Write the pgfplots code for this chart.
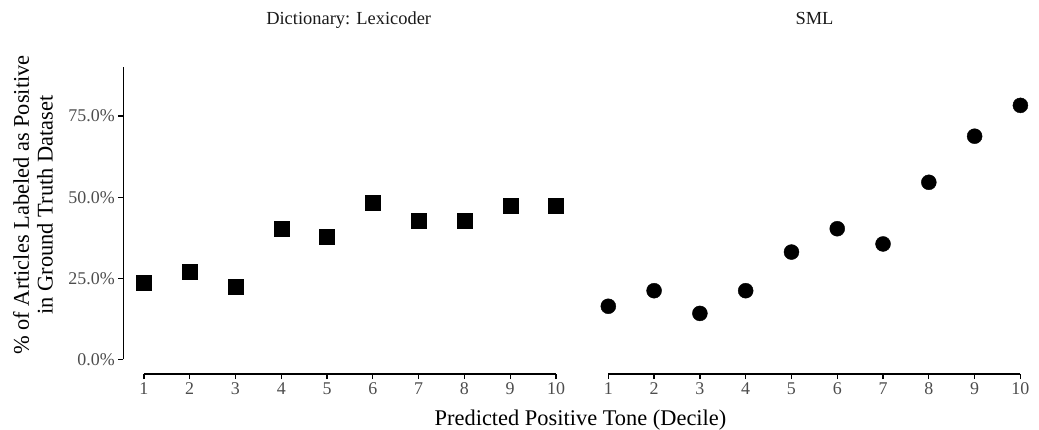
\documentclass[border=0pt]{standalone}
\usepackage{fontspec}
\setmainfont{Liberation Serif}
\usepackage{pgfplots}
\pgfplotsset{compat=1.18}
\definecolor{ticktxt}{HTML}{4D4D4D}
\definecolor{striptxt}{HTML}{1A1A1A}

\pgfplotsset{
  facet/.style={
    scale only axis,
    width=453.3bp, height=321.3bp,
    xmin=0.55, xmax=10.45,
    ymin=-4.5, ymax=94.5,
    axis line style={draw=none},
    tick pos=left,
    tick align=outside,
    major tick length=5bp,
    tick style={line width=1.3bp, black},
    ticklabel style={font=\fontsize{18}{18}\selectfont, text=ticktxt},
    xtick={1,2,3,4,5,6,7,8,9,10},
    xticklabels={1,2,3,4,5,6,7,8,9,10},
    clip=false,
  },
}

\begin{document}
\begin{tikzpicture}
  % left facet: dictionary
  \begin{axis}[facet,
      at={(123.3bp,55.9bp)}, anchor=south west,
      ytick={0,25,50,75},
      yticklabels={0.0\%,25.0\%,50.0\%,75.0\%},
    ]
    \addplot[only marks, mark=square*, mark size=7.5bp, black] coordinates {
      (1,23.6) (2,27.0) (3,22.4) (4,40.2) (5,37.8)
      (6,48.2) (7,42.7) (8,42.7) (9,47.3) (10,47.3)
    };
    \draw[line width=1.3bp] (axis cs:1,-4.5) -- (axis cs:10,-4.5);
    \draw[line width=1.3bp] (axis cs:0.55,0) -- (axis cs:0.55,90);
  \end{axis}

  % right facet: SML
  \begin{axis}[facet,
      at={(587.7bp,55.9bp)}, anchor=south west,
      ytick=\empty,
    ]
    \addplot[only marks, mark=*, mark size=7.5bp, black] coordinates {
      (1,16.4) (2,21.2) (3,14.2) (4,21.2) (5,33.1)
      (6,40.3) (7,35.6) (8,54.6) (9,68.8) (10,78.3)
    };
    \draw[line width=1.3bp] (axis cs:1,-4.5) -- (axis cs:10,-4.5);
  \end{axis}

  % strip titles and axis titles
  \node[anchor=base, font=\fontsize{18.5}{18.5}\selectfont, text=striptxt] at (348.7bp,405bp) {Dictionary: Lexicoder};
  \node[anchor=base, font=\fontsize{18.5}{18.5}\selectfont, text=striptxt] at (814.5bp,405bp) {SML};
  \node[anchor=base, font=\fontsize{22.5}{22.5}\selectfont] at (580.5bp,5bp) {Predicted Positive Tone (Decile)};
  \node[rotate=90, align=center, font=\fontsize{22.5}{24}\selectfont] at (33bp,225bp)
    {\% of Articles Labeled as Positive\\in Ground Truth Dataset};

  \pgfresetboundingbox
  \useasboundingbox (0,0) rectangle (1039bp,430bp);
\end{tikzpicture}
\end{document}
